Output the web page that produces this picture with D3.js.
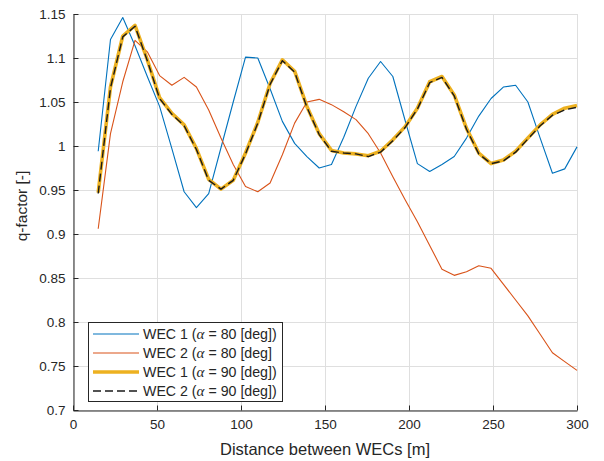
<!DOCTYPE html>
<html>
<head>
<meta charset="utf-8">
<script src="https://cdn.jsdelivr.net/npm/d3@7"></script>
<style>
  html, body { margin: 0; padding: 0; background: #fff; }
  svg { display: block; font-family: "Liberation Sans", Arial, Helvetica, sans-serif; }
</style>
</head>
<body>
<svg id="chart" width="604" height="461"></svg>
<script>
// ---- Data ----
const distances = [15, 22.31, 29.62, 36.92, 44.23, 51.54, 58.85, 66.15, 73.46, 80.77,
  88.08, 95.38, 102.69, 110.0, 117.31, 124.62, 131.92, 139.23, 146.54, 153.85,
  161.15, 168.46, 175.77, 183.08, 190.38, 197.69, 205.0, 212.31, 219.62, 226.92,
  234.23, 241.54, 248.85, 256.15, 263.46, 270.77, 278.08, 285.38, 292.69, 300];

const wec1_80 = [0.994, 1.121, 1.146, 1.114, 1.079, 1.045, 0.997, 0.948, 0.930, 0.946,
  0.998, 1.050, 1.101, 1.100, 1.065, 1.028, 1.003, 0.988, 0.975, 0.979,
  1.010, 1.045, 1.077, 1.096, 1.079, 1.029, 0.980, 0.971, 0.979, 0.988,
  1.009, 1.034, 1.054, 1.067, 1.069, 1.050, 1.009, 0.969, 0.974, 0.999];

const wec2_80 = [0.906, 1.014, 1.073, 1.120, 1.107, 1.080, 1.069, 1.078, 1.067, 1.041,
  1.009, 0.979, 0.954, 0.948, 0.958, 0.990, 1.026, 1.050, 1.053, 1.047,
  1.039, 1.030, 1.014, 0.992, 0.965, 0.939, 0.914, 0.887, 0.860, 0.853,
  0.857, 0.864, 0.861, 0.843, 0.825, 0.807, 0.786, 0.765, 0.755, 0.745];

const wec1_90 = [0.947, 1.067, 1.125, 1.137, 1.098, 1.055, 1.037, 1.024, 0.997, 0.962,
  0.951, 0.961, 0.992, 1.027, 1.071, 1.098, 1.085, 1.045, 1.014, 0.995,
  0.992, 0.991, 0.989, 0.994, 1.007, 1.022, 1.043, 1.073, 1.079, 1.058,
  1.020, 0.992, 0.980, 0.984, 0.994, 1.009, 1.024, 1.036, 1.043, 1.046];

const wec2_90 = [0.946, 1.066, 1.124, 1.136, 1.097, 1.054, 1.036, 1.023, 0.996, 0.961,
  0.951, 0.961, 0.991, 1.026, 1.070, 1.097, 1.084, 1.044, 1.013, 0.994,
  0.992, 0.991, 0.988, 0.993, 1.006, 1.021, 1.042, 1.072, 1.078, 1.057,
  1.019, 0.991, 0.980, 0.983, 0.993, 1.008, 1.023, 1.035, 1.041, 1.044];

const xTicks = [0, 50, 100, 150, 200, 250, 300];
const yTicks = [0.7, 0.75, 0.8, 0.85, 0.9, 0.95, 1, 1.05, 1.1, 1.15];

const seriesNames = ["WEC 1 (", "WEC 2 (", "WEC 1 (", "WEC 2 ("];
const seriesTails = [" = 80 [deg])", " = 80 [deg]", " = 90 [deg])", " = 90 [deg])"];

// ---- Layout ----
const svg = d3.select("#chart");
const m = { left: 73, right: 577, top: 14, bottom: 410 };
const x = d3.scaleLinear().domain([0, 300]).range([m.left, m.right]);
const y = d3.scaleLinear().domain([0.7, 1.15]).range([m.bottom, m.top]);

const axisColor = "#262626";
const gridColor = "#dfdfdf";

// grid
const grid = svg.append("g");
grid.selectAll("line.gx").data(xTicks).join("line")
  .attr("x1", d => x(d) + 0.5).attr("x2", d => x(d) + 0.5)
  .attr("y1", m.top).attr("y2", m.bottom)
  .attr("stroke", gridColor).attr("stroke-width", 1);
grid.selectAll("line.gy").data(yTicks).join("line")
  .attr("y1", d => Math.round(y(d)) + 0.5).attr("y2", d => Math.round(y(d)) + 0.5)
  .attr("x1", m.left).attr("x2", m.right)
  .attr("stroke", gridColor).attr("stroke-width", 1);

// lines
const line = d3.line().x((d, i) => x(distances[i])).y(d => y(d));
const styles = [
  { data: wec1_80, color: "#0072BD", width: 1.1, dash: null },
  { data: wec2_80, color: "#D95319", width: 1.1, dash: null },
  { data: wec1_90, color: "#EDB120", width: 3.6, dash: null },
  { data: wec2_90, color: "#1a1a1a", width: 1.4, dash: "8,4" }
];
styles.forEach(s => {
  svg.append("path").datum(s.data)
    .attr("d", line)
    .attr("fill", "none")
    .attr("stroke", s.color)
    .attr("stroke-width", s.width)
    .attr("stroke-linejoin", "round")
    .attr("stroke-dasharray", s.dash);
});

// axes
const xAxis = d3.axisBottom(x).tickValues(xTicks).tickSizeInner(-5).tickSizeOuter(0).tickPadding(9)
  .tickFormat(d3.format("d"));
const gx = svg.append("g").attr("transform", `translate(0,${m.bottom + 0.5})`).call(xAxis);
const yAxis = d3.axisLeft(y).tickValues(yTicks).tickSizeInner(-5).tickSizeOuter(0).tickPadding(8)
  .tickFormat(d => String(+d.toFixed(2)));
const gy = svg.append("g").attr("transform", `translate(${m.left + 0.5},0)`).call(yAxis);
[gx, gy].forEach(g => {
  g.select(".domain").attr("stroke", axisColor);
  g.selectAll(".tick line").attr("stroke", axisColor);
  g.selectAll(".tick text").attr("fill", axisColor).style("font-size", "13.5px")
    .style("font-family", "'Liberation Sans', Arial, sans-serif");
});

// axis labels
svg.append("text").attr("x", (m.left + m.right) / 2).attr("y", 455)
  .attr("text-anchor", "middle").attr("fill", axisColor).style("font-size", "16.5px")
  .text("Distance between WECs [m]");
svg.append("text").attr("transform", `translate(27,${(m.top + m.bottom) / 2 - 6}) rotate(-90)`)
  .attr("text-anchor", "middle").attr("fill", axisColor).style("font-size", "15.5px")
  .text("q-factor [-]");

// legend
const lg = svg.append("g");
lg.append("rect").attr("x", 88.5).attr("y", 322.5).attr("width", 194).attr("height", 79)
  .attr("fill", "#fff").attr("stroke", axisColor).attr("stroke-width", 1);
styles.forEach((s, i) => {
  const ly = 334 + i * 19;
  lg.append("line").attr("x1", 93).attr("x2", 139).attr("y1", ly).attr("y2", ly)
    .attr("stroke", s.color).attr("stroke-width", s.width)
    .attr("stroke-dasharray", s.dash);
  const t = lg.append("text").attr("x", 143).attr("y", ly + 5)
    .attr("fill", axisColor).style("font-size", "14.2px");
  t.append("tspan").text(seriesNames[i]);
  t.append("tspan").style("font-family", "'Liberation Serif', 'DejaVu Serif', serif")
    .style("font-style", "italic").style("font-size", "15px").text("\u03B1");
  t.append("tspan").text(seriesTails[i]);
});
</script>
</body>
</html>
